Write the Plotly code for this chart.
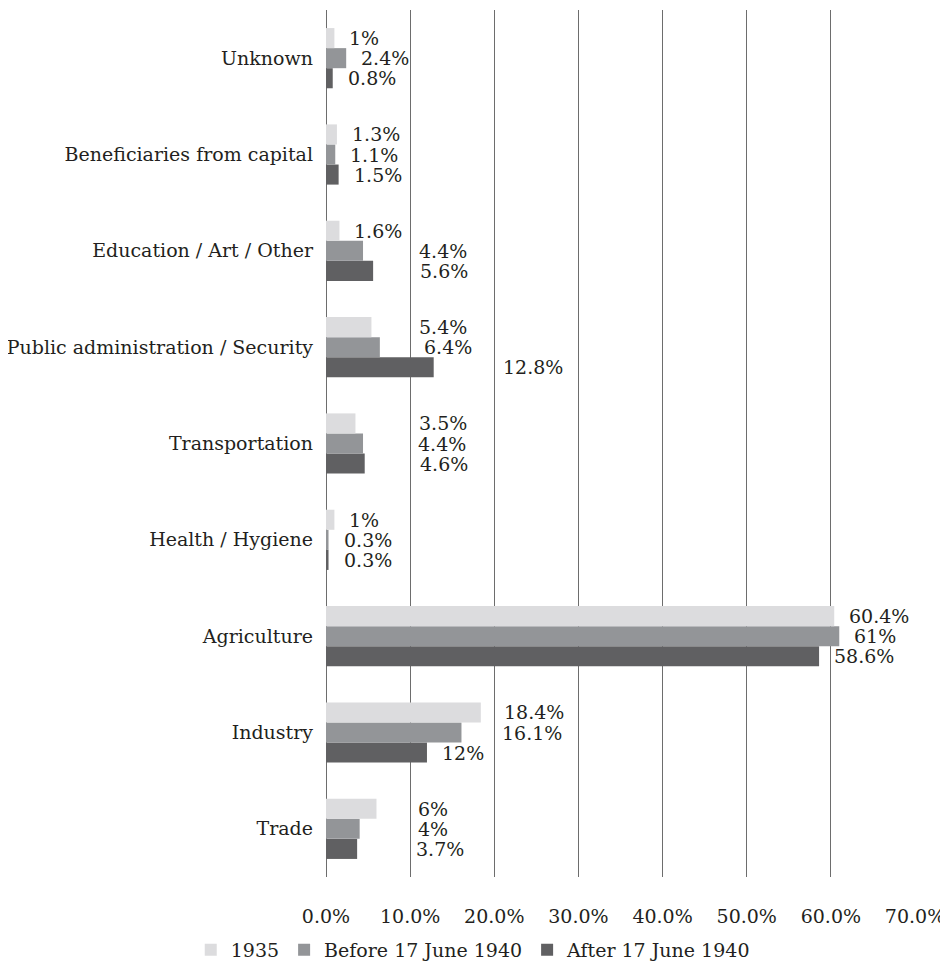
import plotly.graph_objects as go

categories = ["Trade", "Industry", "Agriculture", "Health / Hygiene", "Transportation",
              "Public administration / Security", "Education / Art / Other",
              "Beneficiaries from capital", "Unknown"]
series_names = ["1935", "Before 17 June 1940", "After 17 June 1940"]
values_1935 = [6, 18.4, 60.4, 1, 3.5, 5.4, 1.6, 1.3, 1]
values_before = [4, 16.1, 61, 0.3, 4.4, 6.4, 4.4, 1.1, 2.4]
values_after = [3.7, 12, 58.6, 0.3, 4.6, 12.8, 5.6, 1.5, 0.8]
x_ticks = [0, 10, 20, 30, 40, 50, 60, 70]

# ---- styling / layout ----
FONT = "DejaVu Serif"
FS = 19
colors = {"1935": "#dcdcde", "Before 17 June 1940": "#939598", "After 17 June 1940": "#606062"}
BARGAP = 0.375
FIG_W, FIG_H = 940, 958   # page body adds an 8px margin
PLOT_L, PLOT_R, PLOT_T, PLOT_B = 318, 33, 2, 89
bar_px = (FIG_H - PLOT_T - PLOT_B) / len(categories) * (1 - BARGAP) / 3
# vertical offset (px) of each series' bar within its group
series_shift = {"1935": bar_px, "Before 17 June 1940": 0, "After 17 June 1940": -bar_px}
# manually displaced data labels (left edge, in axis units), as in the original chart
label_override = {
    ("Trade", "1935"): 10.7, ("Trade", "Before 17 June 1940"): 10.7, ("Trade", "After 17 June 1940"): 10.5,
    ("Industry", "1935"): 20.9, ("Industry", "Before 17 June 1940"): 20.7,
    ("Transportation", "1935"): 10.8, ("Transportation", "Before 17 June 1940"): 10.7,
    ("Transportation", "After 17 June 1940"): 10.9,
    ("Public administration / Security", "1935"): 10.8,
    ("Public administration / Security", "Before 17 June 1940"): 11.4,
    ("Public administration / Security", "After 17 June 1940"): 20.8,
    ("Education / Art / Other", "Before 17 June 1940"): 10.8,
    ("Education / Art / Other", "After 17 June 1940"): 10.9,
}

series_values = {"1935": values_1935, "Before 17 June 1940": values_before,
                 "After 17 June 1940": values_after}

fig = go.Figure()
# plotly draws the first trace at the bottom of each group
for name in reversed(series_names):
    fig.add_trace(go.Bar(
        y=categories, x=series_values[name], name=name, orientation="h",
        marker=dict(color=colors[name], line=dict(width=0)),
    ))

annotations = []
for name in series_names:
    for cat, v in zip(categories, series_values[name]):
        key = (cat, name)
        if key in label_override:
            ax_x, xs = label_override[key], 0
        else:
            ax_x, xs = v, 13
        annotations.append(dict(
            x=ax_x, y=cat, xref="x", yref="y", text=f"{v:g}%", showarrow=False,
            xanchor="left", yanchor="middle", xshift=xs, yshift=series_shift[name],
            font=dict(family=FONT, size=FS, color="#231f20"),
        ))

fig.update_layout(
    width=FIG_W, height=FIG_H,
    margin=dict(l=PLOT_L, r=PLOT_R, t=PLOT_T, b=PLOT_B, autoexpand=False),
    barmode="group", bargap=BARGAP, bargroupgap=0,
    plot_bgcolor="white", paper_bgcolor="white",
    font=dict(family=FONT, size=FS, color="#231f20"),
    showlegend=True,
    legend=dict(orientation="h", x=0.25, xanchor="center", xref="paper",
                y=-0.084, yanchor="middle", traceorder="reversed",
                font=dict(family=FONT, size=FS), itemwidth=30),
    annotations=annotations,
)
fig.update_xaxes(
    range=[0, 70], tickvals=x_ticks, ticktext=[f"{t:.1f}%" for t in x_ticks],
    showgrid=True, gridcolor="#6d6d6d", gridwidth=1,
    zeroline=True, zerolinecolor="#6d6d6d", zerolinewidth=1,
    showline=False, ticks="", ticklabelstandoff=26, automargin=False,
)
fig.update_yaxes(
    categoryorder="array", categoryarray=categories,
    showgrid=False, showline=False, ticks="", ticklabelstandoff=12, automargin=False,
)

fig.write_html("out.html")
